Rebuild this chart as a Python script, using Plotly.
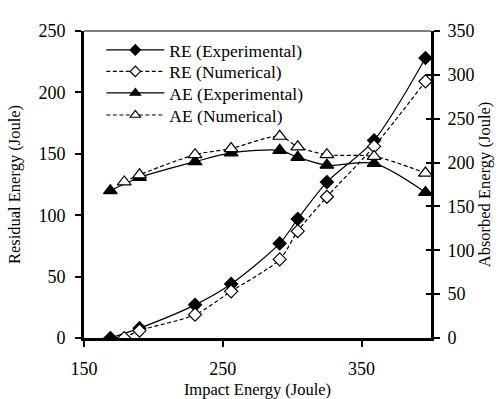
import plotly.graph_objects as go

# Impact energies (J) for the experimental and numerical runs
impact_exp = [169, 190, 230, 256, 291, 304, 325, 359, 396]
impact_num = [179, 190, 230, 256, 291, 304, 325, 359, 396]

# Residual energy (left axis, J)
re_exp = [0, 8, 27, 44, 77, 97, 127, 161, 228]
re_num = [0, 6, 19, 38, 64, 87, 115, 156, 209]

# Absorbed energy (right axis, J)
ae_exp = [168, 183, 201, 211, 214, 206, 197, 199, 166]
ae_num = [178, 186, 209, 216, 230, 218, 209, 207, 188]

FONT = "Liberation Serif"
BLACK = "#000000"
DASH = "4px,2.5px"

series = [
    dict(name="RE (Experimental)", x=impact_exp, y=re_exp, axis="y",
         symbol="diamond", fill=BLACK, dash="solid", size=10, lsize=8),
    dict(name="RE (Numerical)", x=impact_num, y=re_num, axis="y",
         symbol="diamond", fill="white", dash=DASH, size=10, lsize=8),
    dict(name="AE (Experimental)", x=impact_exp, y=ae_exp, axis="y2",
         symbol="triangle-up", fill=BLACK, dash="solid", size=12, lsize=9),
    dict(name="AE (Numerical)", x=impact_num, y=ae_num, axis="y2",
         symbol="triangle-up", fill="white", dash=DASH, size=12, lsize=9),
]

fig = go.Figure()
for s in series:
    fig.add_trace(go.Scatter(
        x=s["x"], y=s["y"], yaxis=s["axis"], mode="lines+markers",
        line=dict(color=BLACK, width=1.2, dash=s["dash"], shape="spline", smoothing=0.8),
        marker=dict(symbol=s["symbol"], size=s["size"], color=s["fill"],
                    line=dict(color=BLACK, width=1.2)),
        showlegend=False, name=s["name"],
    ))

# empty trace so the inner tick marks of the right axis get drawn
fig.add_trace(go.Scatter(x=[None], y=[None], yaxis="y3", showlegend=False, hoverinfo="skip"))

# one single-entry legend per series, stacked at fixed rows
legend_rows = [0.938, 0.868, 0.798, 0.726]
legend_layout = {}
for i, (s, row) in enumerate(zip(series, legend_rows)):
    key = "legend" if i == 0 else f"legend{i + 1}"
    fig.add_trace(go.Scatter(
        x=[None], y=[None], yaxis=s["axis"], mode="lines+markers", name=s["name"],
        legend=key,
        line=dict(color=BLACK, width=1.2, dash=s["dash"]),
        marker=dict(symbol=s["symbol"], size=s["lsize"], color=s["fill"],
                    line=dict(color=BLACK, width=1.2)),
    ))
    legend_layout[key] = dict(
        x=0.05, y=row, xanchor="left", yanchor="middle", bgcolor="rgba(0,0,0,0)",
        font=dict(family=FONT, size=17.5, color=BLACK), itemwidth=58,
    )

axis_common = dict(
    showgrid=False, zeroline=False, showline=True, linecolor=BLACK, linewidth=3,
    ticks="outside", ticklen=6, tickwidth=1.5, tickcolor=BLACK, automargin=False,
    tickfont=dict(family=FONT, size=18, color=BLACK),
    title_font=dict(family=FONT, size=16.5, color=BLACK),
)

fig.update_layout(
    width=500, height=399,
    margin=dict(l=84, r=69, t=31, b=61),
    paper_bgcolor="white", plot_bgcolor="white",
    font=dict(family=FONT, color=BLACK),
    xaxis=dict(range=[150, 400], dtick=100, tick0=150, ticklabelstandoff=6,
               title=dict(text="Impact Energy (Joule)", standoff=7), **axis_common),
    yaxis=dict(range=[0, 250], dtick=50, ticklabelstandoff=6,
               title=dict(text="Residual Energy (Joule)", standoff=14), **axis_common),
    yaxis2=dict(range=[0, 350], dtick=50, overlaying="y", side="right", ticklabelstandoff=4,
                title=dict(text="Absorbed Energy (Joule)", standoff=4), **axis_common),
    yaxis3=dict(range=[0, 350], dtick=50, overlaying="y", side="right", showline=False,
                showgrid=False, zeroline=False, showticklabels=False, automargin=False,
                ticks="inside", ticklen=5, tickwidth=1.5, tickcolor=BLACK),
    shapes=[dict(type="line", xref="paper", yref="paper", x0=0, x1=1, y0=1, y1=1,
                 line=dict(color=BLACK, width=1))],
    **legend_layout,
)

fig.write_html("out.html")
